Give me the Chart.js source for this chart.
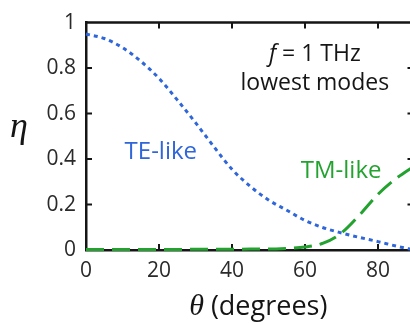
<!DOCTYPE html>
<html>
<head>
<meta charset="utf-8">
<script src="https://cdn.jsdelivr.net/npm/chart.js@4.4.0/dist/chart.umd.min.js"></script>
<style>
  html, body { margin: 0; padding: 0; background: #fff; overflow: hidden; }
  #wrap { width: 420px; height: 325px; }
</style>
</head>
<body>
<div id="wrap"><canvas id="chart" width="420" height="325"></canvas></div>
<script>
// angle of incidence (degrees) and coupling efficiency of the two lowest modes
var theta  = [0, 5, 10, 15, 20, 25, 30, 35, 40, 45, 50, 55, 60, 65, 70, 75, 80, 85, 90];
var teLike = [0.95, 0.93, 0.89, 0.83, 0.755, 0.66, 0.56, 0.455, 0.355, 0.28, 0.22, 0.175, 0.13, 0.098, 0.075, 0.055, 0.037, 0.017, 0.0];
var tmLike = [0.002, 0.002, 0.002, 0.002, 0.002, 0.002, 0.003, 0.003, 0.003, 0.004, 0.004, 0.007, 0.013, 0.03, 0.075, 0.155, 0.245, 0.315, 0.37];

var xTicks = [0, 20, 40, 60, 80];
var yTicks = [0, 0.2, 0.4, 0.6, 0.8, 1];

var BLUE = '#2f66d9';
var GREEN = '#24a230';
var INK = '#151515';

function points(ys) {
    return theta.map(function (t, i) { return { x: t, y: ys[i] }; });
}

var decorations = {
    id: 'decorations',
    beforeDatasetsDraw: function (chart) {
        var ctx = chart.ctx, a = chart.chartArea;
        var xs = chart.scales.x, ys = chart.scales.y;
        ctx.save();
        ctx.strokeStyle = INK;
        ctx.lineWidth = 2.5;
        // top and right frame
        ctx.beginPath();
        ctx.moveTo(a.left, a.top);
        ctx.lineTo(a.right, a.top);
        ctx.lineTo(a.right, a.bottom);
        ctx.stroke();
        // inward tick marks
        ctx.lineWidth = 2;
        xTicks.forEach(function (v) {
            if (v === 0) return;
            var px = xs.getPixelForValue(v);
            ctx.beginPath();
            ctx.moveTo(px, a.bottom); ctx.lineTo(px, a.bottom - 6);
            ctx.moveTo(px, a.top); ctx.lineTo(px, a.top + 6);
            ctx.stroke();
        });
        yTicks.forEach(function (v) {
            if (v === 0 || v === 1) return;
            var py = ys.getPixelForValue(v);
            ctx.beginPath();
            ctx.moveTo(a.left, py); ctx.lineTo(a.left + 6, py);
            ctx.moveTo(a.right, py); ctx.lineTo(a.right - 7, py);
            ctx.stroke();
        });
        ctx.restore();
    },
    afterDraw: function (chart) {
        var ctx = chart.ctx, a = chart.chartArea;
        var xs = chart.scales.x, ys = chart.scales.y;
        ctx.save();
        ctx.textBaseline = 'alphabetic';

        // y axis title
        ctx.fillStyle = INK;
        ctx.textAlign = 'center';
        ctx.font = 'italic 36px "Liberation Serif"';
        ctx.fillText('\u03b7', 19, 137);

        // x axis title: italic theta + (degrees)
        ctx.textAlign = 'left';
        var f1 = 'italic 30px "Liberation Serif"', f2 = '27px "Open Sans"';
        ctx.font = f1; var w1 = ctx.measureText('\u03b8').width;
        ctx.font = f2; var w2 = ctx.measureText(' (degrees)').width;
        var cx = (a.left + a.right) / 2 + 8;
        var sx = cx - (w1 + w2) / 2;
        ctx.font = f1; ctx.fillText('\u03b8', sx, 315);
        ctx.font = f2; ctx.fillText(' (degrees)', sx + w1, 315);

        // frequency note
        var g1 = 'italic 23px "Open Sans"', g2 = '23px "Open Sans"';
        ctx.font = g1; var v1 = ctx.measureText('f').width;
        ctx.font = g2; var v2 = ctx.measureText(' = 1 THz').width;
        var nx = xs.getPixelForValue(62.7) - (v1 + v2) / 2;
        var ny = ys.getPixelForValue(0.83);
        ctx.font = g1; ctx.fillText('f', nx, ny);
        ctx.font = g2; ctx.fillText(' = 1 THz', nx + v1, ny);
        ctx.textAlign = 'center';
        ctx.fillText('lowest modes', xs.getPixelForValue(62.7), ys.getPixelForValue(0.705));

        // series labels
        ctx.font = '24px "Open Sans"';
        ctx.fillStyle = BLUE;
        ctx.fillText('TE-like', xs.getPixelForValue(20.5), ys.getPixelForValue(0.40));
        ctx.fillStyle = GREEN;
        ctx.fillText('TM-like', xs.getPixelForValue(69.9), ys.getPixelForValue(0.318));
        ctx.restore();
    }
};

new Chart(document.getElementById('chart'), {
    type: 'line',
    data: {
        datasets: [{
            label: 'TE-like',
            data: points(teLike),
            borderColor: BLUE,
            borderWidth: 3,
            borderDash: [4, 4],
            pointRadius: 0,
            cubicInterpolationMode: 'monotone',
            fill: false,
            clip: 4,
        }, {
            label: 'TM-like',
            data: points(tmLike),
            borderColor: GREEN,
            borderWidth: 3,
            borderDash: [18, 8],
            pointRadius: 0,
            cubicInterpolationMode: 'monotone',
            fill: false,
            clip: 4,
        }],
    },
    options: {
        responsive: false,
        animation: false,
        layout: { padding: { top: 13, right: 5.5, left: 0, bottom: 0 } },
        plugins: {
            legend: { display: false },
            tooltip: { enabled: false },
        },
        scales: {
            x: {
                type: 'linear',
                min: 0,
                max: 90,
                grid: { display: false, drawTicks: false },
                border: { display: true, color: INK, width: 2.5 },
                afterBuildTicks: function (scale) {
                    scale.ticks = xTicks.map(function (v) { return { value: v }; });
                },
                afterFit: function (scale) { scale.height = 75; },
                ticks: {
                    padding: 8,
                    maxRotation: 0,
                    color: '#2a2a2a',
                    font: { family: 'Open Sans', size: 21 },
                },
            },
            y: {
                min: 0,
                max: 1,
                grid: { display: false, drawTicks: false },
                border: { display: true, color: INK, width: 2.5 },
                afterBuildTicks: function (scale) {
                    scale.ticks = yTicks.map(function (v) { return { value: v }; });
                },
                afterFit: function (scale) { scale.width = 86; },
                ticks: {
                    padding: 10,
                    color: '#2a2a2a',
                    font: { family: 'Open Sans', size: 21 },
                    callback: function (v) { return (v === 0 || v === 1) ? String(v) : v.toFixed(1); },
                },
            },
        },
    },
    plugins: [decorations],
});
</script>
</body>
</html>
